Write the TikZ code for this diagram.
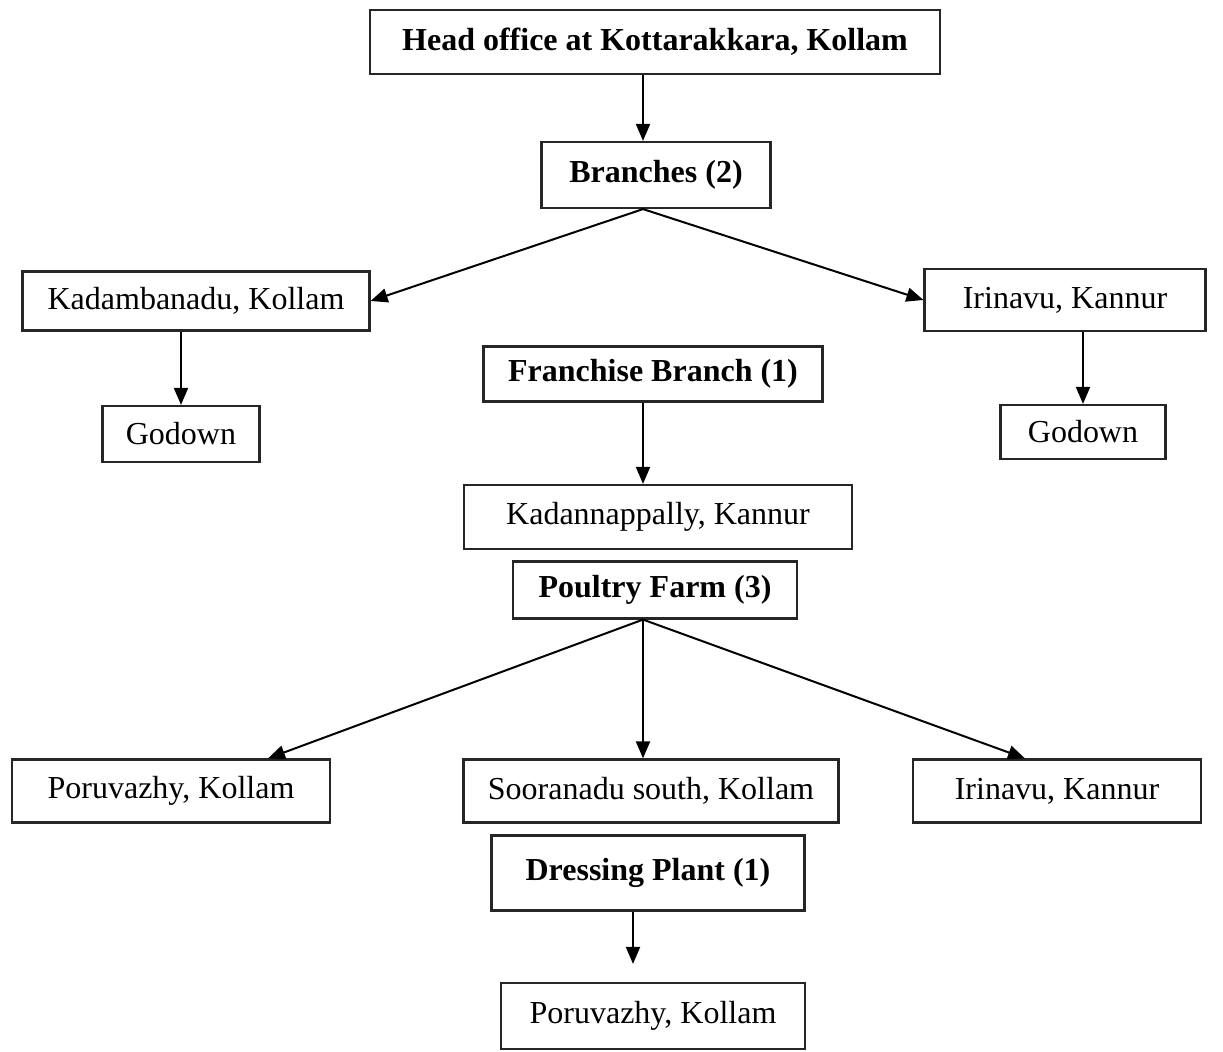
\documentclass[tikz,border=0pt]{standalone}
\usepackage{fontspec}
\setmainfont{Liberation Serif}
\usetikzlibrary{arrows.meta}
\tikzstyle{site} = [rectangle, draw=black!85, line width=1.1pt, inner sep=0pt, text centered, font=\fontsize{16}{19}\selectfont]
\tikzstyle{sitebold} = [site, font=\fontsize{16}{19}\selectfont\bfseries]
\tikzstyle{arrow} = [line width=1pt, -{Triangle[length=8.5pt,width=7pt]}]

\begin{document}
\begin{tikzpicture}[x=0.5pt, y=-0.5pt]
\useasboundingbox (0,0) rectangle (1223,1052);
\coordinate (axis) at (643,0);
\coordinate (axisB) at (633,0);

\node (head) [sitebold, minimum width=285pt, minimum height=32pt] at (655,42) {Head office at Kottarakkara, Kollam};
\node (branches) [sitebold, minimum width=114.5pt, minimum height=33pt] at (656,175) {Branches (2)};
\node (kadam) [site, minimum width=173.5pt, minimum height=29.5pt] at (196,301) {Kadambanadu, Kollam};
\node (godownL) [site, minimum width=78.5pt, minimum height=28pt] at (181,434) {Godown};
\node (irinT) [site, minimum width=140.5pt, minimum height=31pt] at (1065,300) {Irinavu, Kannur};
\node (godownR) [site, minimum width=82.5pt, minimum height=27pt] at (1083,432) {Godown};
\node (franchise) [sitebold, minimum width=169.5pt, minimum height=27.5pt] at (653,374) {Franchise Branch (1)};
\node (kadann) [site, minimum width=194pt, minimum height=32pt] at (658,517) {Kadannappally, Kannur};
\node (poultry) [sitebold, minimum width=142pt, minimum height=28.5pt] at (655,590) {Poultry Farm (3)};
\node (poruL) [site, minimum width=159pt, minimum height=31.5pt] at (171,791) {Poruvazhy, Kollam};
\node (soor) [site, minimum width=187.5pt, minimum height=31.5pt] at (651,791) {Sooranadu south, Kollam};
\node (irinB) [site, minimum width=144pt, minimum height=31.5pt] at (1057,791) {Irinavu, Kannur};
\node (dressing) [sitebold, minimum width=156.5pt, minimum height=37.5pt] at (648,873) {Dressing Plant (1)};
\node (poruB) [site, minimum width=152pt, minimum height=33pt] at (653,1016) {Poruvazhy, Kollam};

\draw [arrow] (head.south -| axis) -- (branches.north -| axis);
\draw [arrow] (branches.south -| axis) -- (kadam.east);
\draw [arrow] (branches.south -| axis) -- (irinT.west);
\draw [arrow] (kadam.south -| godownL) -- (godownL.north);
\draw [arrow] (irinT.south -| godownR) -- (godownR.north);
\draw [arrow] (franchise.south -| axis) -- (kadann.north -| axis);
\draw [arrow] (poultry.south -| axis) -- ([xshift=48.5pt]poruL.north);
\draw [arrow] (poultry.south -| axis) -- (soor.north -| axis);
\draw [arrow] (poultry.south -| axis) -- ([xshift=-16pt]irinB.north);
\draw [arrow, shorten >=9pt] (dressing.south -| axisB) -- (poruB.north -| axisB);

\end{tikzpicture}
\end{document}
